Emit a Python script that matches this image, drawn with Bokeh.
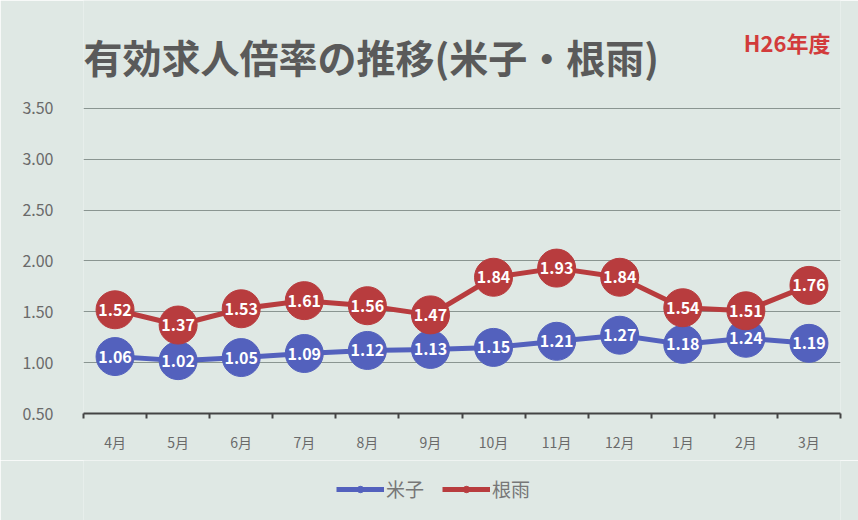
from bokeh.plotting import figure
from bokeh.layouts import column
from bokeh.models import (ColumnDataSource, FixedTicker, Range1d, Label, Legend, LegendItem,
                          NumeralTickFormatter)
from bokeh.core.properties import value
from bokeh.embed import file_html
from bokeh.resources import INLINE

months = ["4月", "5月", "6月", "7月", "8月", "9月", "10月", "11月", "12月", "1月", "2月", "3月"]
yonago = [1.06, 1.02, 1.05, 1.09, 1.12, 1.13, 1.15, 1.21, 1.27, 1.18, 1.24, 1.19]
neu = [1.52, 1.37, 1.53, 1.61, 1.56, 1.47, 1.84, 1.93, 1.84, 1.54, 1.51, 1.76]
y_ticks = [0.5, 1.0, 1.5, 2.0, 2.5, 3.0, 3.5]
series_names = ["米子", "根雨"]

BLUE = "#5361bd"
RED = "#b83c3e"
BG = "#dfe8e4"
FONT = "Noto Sans CJK JP"

xs = [i + 0.5 for i in range(len(months))]
src = ColumnDataSource(dict(
    x=xs, yonago=yonago, neu=neu,
    yl=[f"{v:.2f}" for v in yonago], nl=[f"{v:.2f}" for v in neu],
))

# main chart; the frame reaches up to the top so that the heading sits inside it
p = figure(width=858, height=460, output_backend="svg", toolbar_location=None,
           x_range=Range1d(0, len(months)), y_range=Range1d(0.5, 4.562),
           min_border_left=83, min_border_right=18, min_border_top=0, min_border_bottom=47)
p.background_fill_color = BG
p.border_fill_color = BG
p.outline_line_color = None

# x axis: labels at category centres, tick marks at boundaries
p.xaxis.ticker = FixedTicker(ticks=xs, minor_ticks=list(range(len(months) + 1)))
p.xaxis.major_label_overrides = {x: m for x, m in zip(xs, months)}
p.xaxis.major_tick_line_color = None
p.xaxis.minor_tick_line_color = "#444444"
p.xaxis.minor_tick_line_width = 2
p.xaxis.minor_tick_in = 0
p.xaxis.minor_tick_out = 5
p.xaxis.axis_line_color = "#444444"
p.xaxis.axis_line_width = 2
p.xaxis.major_label_text_font = FONT
p.xaxis.major_label_text_font_size = "14px"
p.xaxis.major_label_text_color = "#6a6a6a"
p.xaxis.major_label_standoff = 12

p.yaxis.ticker = FixedTicker(ticks=y_ticks)
p.yaxis.formatter = NumeralTickFormatter(format="0.00")
p.yaxis.axis_line_color = None
p.yaxis.major_tick_line_color = None
p.yaxis.minor_tick_line_color = None
p.yaxis.major_label_text_font = FONT
p.yaxis.major_label_text_font_size = "16px"
p.yaxis.major_label_text_color = "#6a6a6a"
p.yaxis.major_label_standoff = 24

p.xgrid.grid_line_color = None
p.ygrid.ticker = FixedTicker(ticks=y_ticks)
p.ygrid.grid_line_color = "#8a9591"
p.ygrid.grid_line_width = 1

p.line("x", "yonago", source=src, line_color=BLUE, line_width=5)
p.scatter("x", "yonago", source=src, size=38, fill_color=BLUE, line_color=BLUE)
p.line("x", "neu", source=src, line_color=RED, line_width=5)
p.scatter("x", "neu", source=src, size=38, fill_color=RED, line_color=RED)

for col, ycol in (("yl", "yonago"), ("nl", "neu")):
    p.text("x", ycol, text=col, source=src, text_color="white", text_font=value(FONT),
           text_font_size="16px", text_font_style="bold", text_align="center",
           text_baseline="middle")

p.add_layout(Label(x=0, y=4.021, text="有効求人倍率の推移(米子・根雨)", text_font=FONT,
                   text_font_size="39px", text_font_style="bold", text_color="#5a5a5a",
                   text_baseline="middle", text_align="left"))
p.add_layout(Label(x=11.84, y=4.149, text="H26年度", text_font=FONT,
                   text_font_size="22px", text_font_style="bold", text_color="#d23b3b",
                   text_baseline="middle", text_align="right"))

# legend strip below the chart (its series lie outside the strip's visible range,
# only their legend glyphs are shown)
q = figure(width=858, height=60, output_backend="svg", toolbar_location=None,
           x_axis_location=None, y_axis_location=None,
           x_range=Range1d(-100, -99), y_range=Range1d(-100, -99),
           min_border_left=0, min_border_right=0, min_border_top=0, min_border_bottom=0)
q.grid.grid_line_color = None
q.background_fill_color = BG
q.border_fill_color = BG
q.outline_line_color = None
items = []
for name, ycol, color in zip(series_names, ("yonago", "neu"), (BLUE, RED)):
    ln = q.line("x", ycol, source=src, line_color=color, line_width=5)
    mk = q.scatter("x", ycol, source=src, size=10, fill_color=color, line_color=color)
    items.append(LegendItem(label=name, renderers=[ln, mk]))
legend = Legend(items=items, orientation="horizontal", location=(253, 18), margin=0,
                background_fill_alpha=0, border_line_color=None,
                label_text_font=FONT, label_text_font_size="19px", label_text_color="#777777",
                glyph_width=48, glyph_height=16, spacing=18, label_standoff=2, padding=4)
q.add_layout(legend, "center")

layout = column(p, q, spacing=0)
open("out.html", "w").write(file_html(layout, INLINE))
